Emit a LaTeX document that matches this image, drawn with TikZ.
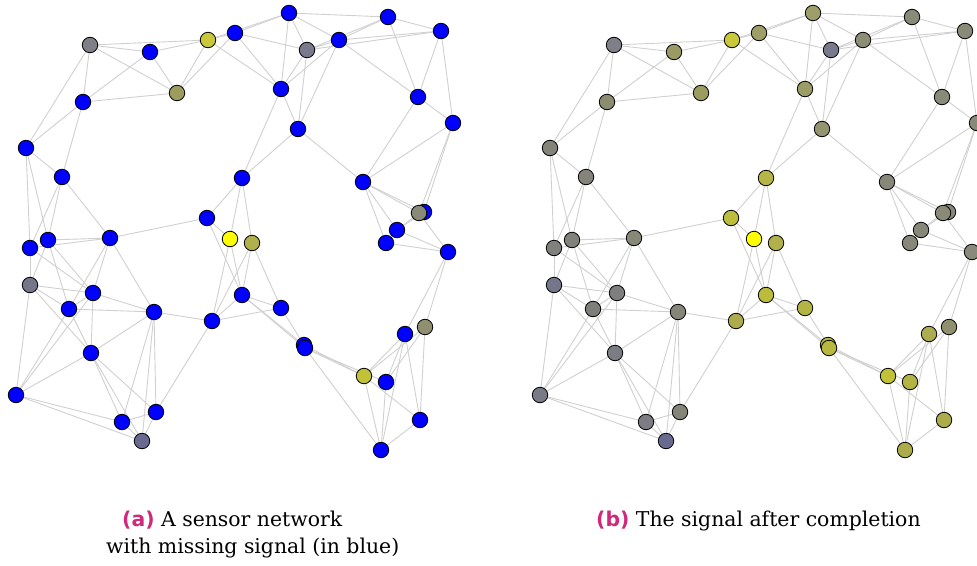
\documentclass[tikz,border=0pt]{standalone}
\usepackage{fontspec}
\setmainfont{DejaVu Serif}
\newfontfamily\labfont{DejaVu Sans}
\usetikzlibrary{backgrounds}
\definecolor{edgegray}{HTML}{D0D0D0}
\definecolor{labcol}{HTML}{D0287A}
\definecolor{sblue}{HTML}{0000FF}
% right-graph (completed) colours
\definecolor{Ra}{HTML}{7F7F87}\definecolor{Rb}{HTML}{9A9A64}\definecolor{Rc}{HTML}{C8C83A}
\definecolor{Rd}{HTML}{9E9E66}\definecolor{Re}{HTML}{9C9C5E}\definecolor{Rf}{HTML}{8C8C70}
\definecolor{Rg}{HTML}{84847A}\definecolor{Rh}{HTML}{84847A}\definecolor{Ri}{HTML}{B6B646}
\definecolor{Rj}{HTML}{BCBC3E}\definecolor{Rk}{HTML}{82827C}\definecolor{Rl}{HTML}{888876}
\definecolor{Rm}{HTML}{9E9E6A}\definecolor{Rn}{HTML}{7A7A8E}\definecolor{Ro}{HTML}{8E8E74}
\definecolor{Rp}{HTML}{8A8A78}\definecolor{Rq}{HTML}{8A8A78}\definecolor{Rr}{HTML}{9C9C66}
\definecolor{Rs}{HTML}{949470}\definecolor{Rt}{HTML}{8A8A78}\definecolor{Ru}{HTML}{8A8A78}
\definecolor{Rv}{HTML}{88887A}\definecolor{Rwb}{HTML}{88887A}\definecolor{Rw}{HTML}{8A8A78}
\definecolor{Rx}{HTML}{88887A}\definecolor{Ry}{HTML}{88887A}\definecolor{Rz}{HTML}{FFFF00}
\definecolor{Raa}{HTML}{B0B04C}\definecolor{Rbb}{HTML}{8A8A7A}\definecolor{Rcc}{HTML}{BCBC3C}
\definecolor{Rdd}{HTML}{B4B444}\definecolor{Ree}{HTML}{B8B840}\definecolor{Rff}{HTML}{909070}
\definecolor{Rgg}{HTML}{ACAC50}\definecolor{Rhh}{HTML}{C2C236}\definecolor{Rii}{HTML}{B4B444}
\definecolor{Rjj}{HTML}{ACAC4A}\definecolor{Rkk}{HTML}{ACAC4A}\definecolor{Rll}{HTML}{80807C}
\definecolor{Rmm}{HTML}{76768A}\definecolor{Rnn}{HTML}{7E7E7E}\definecolor{Roo}{HTML}{7E7E7C}
\definecolor{Rpp}{HTML}{868678}\definecolor{Rqq}{HTML}{ACAC4E}\definecolor{Rss}{HTML}{7C7C84}
\definecolor{Rtt}{HTML}{7A7A86}\definecolor{Ruu}{HTML}{848478}\definecolor{Rvv}{HTML}{7C7C82}
\definecolor{Rww}{HTML}{6A6A90}
% left-graph colours: blue for missing, observed keep their value
\colorlet{La}{Ra}\colorlet{Lb}{sblue}\colorlet{Lc}{Rc}\colorlet{Ld}{sblue}\colorlet{Le}{Re}
\colorlet{Lf}{sblue}\colorlet{Lg}{sblue}\colorlet{Lh}{sblue}\colorlet{Li}{sblue}\colorlet{Lj}{sblue}
\colorlet{Lk}{sblue}\colorlet{Ll}{sblue}\colorlet{Lm}{sblue}\colorlet{Ln}{Rn}\colorlet{Lo}{sblue}
\colorlet{Lp}{sblue}\colorlet{Lq}{sblue}\colorlet{Lr}{sblue}\colorlet{Ls}{sblue}\colorlet{Lt}{sblue}
\colorlet{Lu}{sblue}\colorlet{Lv}{sblue}\colorlet{Lwb}{sblue}\colorlet{Lw}{Rw}\colorlet{Lx}{sblue}
\colorlet{Ly}{sblue}\colorlet{Lz}{Rz}\colorlet{Laa}{Raa}\colorlet{Lbb}{sblue}\colorlet{Lcc}{sblue}
\colorlet{Ldd}{sblue}\colorlet{Lee}{sblue}\colorlet{Lff}{Rff}\colorlet{Lgg}{sblue}\colorlet{Lhh}{Rhh}
\colorlet{Lii}{sblue}\colorlet{Ljj}{sblue}\colorlet{Lkk}{sblue}\colorlet{Lll}{sblue}\colorlet{Lmm}{Rmm}
\colorlet{Lnn}{sblue}\colorlet{Loo}{sblue}\colorlet{Lpp}{sblue}\colorlet{Lqq}{sblue}\colorlet{Lss}{sblue}
\colorlet{Ltt}{sblue}\colorlet{Luu}{sblue}\colorlet{Lvv}{sblue}\colorlet{Lww}{Rww}
\colorlet{Ree1}{Ree}\colorlet{Ree2}{Ree}\colorlet{Lee1}{sblue}\colorlet{Lee2}{sblue}

\newcommand\graphnodes[1]{%
  \foreach \n/\x/\y in {a/90/45,b/150/52,c/208/40,d/235/33,e/177/93,f/83/102,
      g/26/148,h/62/177,i/242/178,j/207/218,k/48/240,l/110/238,m/289/13,n/307/50,
      o/339/40,p/388/17,q/441/31,r/281/89,s/298/129,t/418/97,u/453/123,v/363/182,
      wb/424/212,w/419/213,x/397/230,y/386/243,z/230/239,aa/252/243,bb/448/252,
      cc/242/295,dd/281/308,ee1/304/345,ee2/305/348,ff/425/327,gg/405/334,
      hh/364/376,ii/386/382,jj/420/420,kk/381/450,ll/30/248,mm/30/285,nn/93/293,
      oo/69/309,pp/154/312,qq/212/321,ss/91/353,tt/16/395,uu/156/412,vv/122/422,
      ww/142/441}
    {\node[dot,fill=#1\n] (#1\n) at (\x,\y) {};}
}
\newcommand\graphedges[1]{%
  \foreach \u/\v in {a/b,a/c,a/e,a/f,a/g,b/c,b/e,b/f,c/d,c/e,c/m,c/r,d/e,d/m,d/n,d/r,
      e/f,f/g,f/h,g/h,g/ll,g/k,h/k,h/ll,h/l,m/n,m/r,m/o,m/p,n/o,n/r,n/s,n/p,n/q,
      o/r,o/s,o/t,o/p,o/q,p/q,p/t,q/t,q/u,t/u,t/v,u/v,u/w,u/wb,r/s,r/i,s/i,s/v,
      i/j,i/z,i/aa,v/w,v/wb,v/x,v/y,w/x,wb/x,w/bb,x/bb,y/bb,
      j/l,j/z,j/cc,z/cc,z/qq,aa/cc,aa/dd,aa/qq,cc/qq,cc/dd,qq/dd,
      cc/ee1,cc/ee2,dd/ee1,ee1/hh,ee2/hh,ee2/ii,ee2/kk,
      hh/jj,hh/kk,ii/kk,hh/gg,hh/ff,ii/gg,ii/ff,gg/kk,gg/jj,ff/jj,jj/kk,gg/bb,ff/bb,
      k/l,ll/l,k/mm,k/oo,k/nn,ll/nn,ll/mm,mm/nn,mm/oo,mm/ss,mm/tt,
      nn/l,oo/l,nn/oo,nn/pp,oo/pp,l/pp,nn/ss,oo/ss,tt/oo,tt/nn,tt/ss,
      ss/pp,ss/vv,ss/ww,ss/uu,pp/vv,pp/uu,pp/ww,pp/qq,qq/uu,
      tt/vv,tt/ww,vv/uu,vv/ww,uu/ww}
    {\draw[edge] (#1\u.center) -- (#1\v.center);}
}

\begin{document}
\begin{tikzpicture}[x=1pt,y=-1pt,
  dot/.style={circle,draw=black,line width=0.8pt,inner sep=0pt,minimum size=15.5pt},
  edge/.style={draw=edgegray,line width=0.9pt},
  captext/.style={anchor=base west,inner sep=0pt,font=\fontsize{20.4}{24}\selectfont},
  lab/.style={font=\labfont\bfseries,text=labcol}]
\useasboundingbox (0,0) rectangle (977,565);
\clip (0,0) rectangle (977,565);
\graphnodes{L}
\begin{scope}[xshift=524pt]
  \graphnodes{R}
\end{scope}
\begin{scope}[on background layer]
  \graphedges{L}
  \graphedges{R}
\end{scope}
\node[captext] (capa1) at (122,526) {{\labfont\bfseries\color{labcol}(a)}\ A sensor network};
\node[captext] (capa2) at (106,553) {with missing signal (in blue)};
\node[captext] (capb) at (596,526) {{\labfont\bfseries\color{labcol}(b)}\ The signal after completion};
\end{tikzpicture}
\end{document}
